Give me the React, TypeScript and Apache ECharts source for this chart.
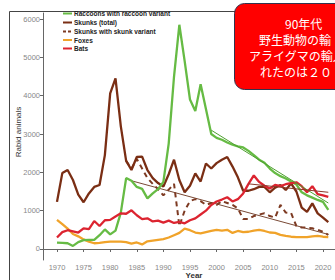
import React, { useEffect, useRef } from "react";
import * as echarts from "echarts";

const years = [
  1970, 1971, 1972, 1973, 1974, 1975, 1976, 1977, 1978, 1979,
  1980, 1981, 1982, 1983, 1984, 1985, 1986, 1987, 1988, 1989,
  1990, 1991, 1992, 1993, 1994, 1995, 1996, 1997, 1998, 1999,
  2000, 2001, 2002, 2003, 2004, 2005, 2006, 2007, 2008, 2009,
  2010, 2011, 2012, 2013, 2014, 2015, 2016, 2017, 2018, 2019,
  2020, 2021,
];

const raccoons = [
  165, 160, 150, 80, 180, 230, 240, 240, 360, 510,
  380, 480, 950, 1850, 1780, 1620, 1570, 1320, 1450, 1560,
  1750, 2750, 4500, 5850, 4900, 3900, 3600, 4300, 3650, 3000,
  2900, 2850, 2780, 2720, 2680, 2650, 2560, 2450, 2330, 2250,
  2100, 1980, 1900, 1840, 1760, 1680, 1480, 1400, 1340, 1280,
  1230, 1020,
];

const skunksTotal = [
  1230, 1980, 2060, 1800, 1420, 1220, 1450, 1620, 1670, 2450,
  4060, 4450, 3200, 2300, 2060, 2400, 2410, 2060, 1850, 1720,
  1630, 1950, 2330, 1800, 1480, 1650, 1970, 1760, 2230, 2100,
  2240, 2330, 2400, 2150, 1870, 1520, 1520, 1560, 1620, 1620,
  1480, 1600, 1670, 1540, 1710, 1500, 1080, 970, 1190, 930,
  820, 700,
];

const skunksVariant = [
  null, null, null, null, null, null, null, null, null, null,
  null, null, null, 2300, 2100, 2350, 2100, 1850, 1700, 1560,
  1400, 1550, 1700, 600, 1000, 1250, 1300, 1250, 1150, 1200,
  1150, 1250, 1200, 1150, 1060, 780, 780, 860, 900, 930,
  860, 820, 1150, 950, 940, 600, 560, 560, 540, 500,
  450, 370,
];

const foxes = [
  760, 650, 530, 390, 330, 250, 190, 150, 160, 180,
  190, 195, 190, 180, 140, 170, 120, 200, 220, 240,
  260, 300, 360, 420, 530, 490, 430, 410, 440, 470,
  500, 480, 500, 420, 470, 440, 450, 480, 500, 470,
  430, 420, 370, 340, 320, 310, 310, 310, 330, 340,
  320, 310,
];

const bats = [
  300, 440, 490, 460, 430, 540, 520, 730, 600, 750,
  760, 850, 930, 920, 1010, 880, 780, 800, 720, 740,
  690, 740, 680, 710, 670, 750, 800, 900, 1000, 1150,
  1240, 1290, 1350, 1240, 1300, 1450, 1700, 1920, 1750, 1650,
  1580, 1670, 1640, 1690, 1720, 1740, 1640, 1480, 1640, 1430,
  1400, 1360,
];

// trend lines: [start year, end year], [start value, end value]
const raccoonTrendYears = [1999, 2021];
const raccoonTrendValues = [3100, 1200];
const variantTrendYears = [1984, 2021];
const variantTrendValues = [1780, 380];
const totalTrendYears = [2006, 2021];
const totalTrendValues = [1700, 1480];

const xTicks = [1970, 1975, 1980, 1985, 1990, 1995, 2000, 2005, 2010, 2015, 2020];
const yTicks = [0, 1000, 2000, 3000, 4000, 5000, 6000];

const legendNames = [
  "Raccoons with raccoon variant",
  "Skunks (total)",
  "Skunks with skunk variant",
  "Foxes",
  "Bats",
];

const calloutLines = ["90年代", "野生動物の輸", "アライグマの輸入", "れたのは２０"];

const C_GREEN = "#66bb44";
const C_BROWN = "#7a2e14";
const C_BROWN2 = "#7d3a22";
const C_ORANGE = "#f0a32a";
const C_RED = "#dc2430";

const legendColors = [C_GREEN, C_BROWN, C_BROWN2, C_ORANGE, C_RED];

export default function App() {
  const ref = useRef<HTMLDivElement>(null);
  useEffect(() => {
    document.body.style.margin = "0";
    const chart = echarts.init(ref.current!, null, { renderer: "svg" });
    const pairs = (vals: (number | null)[]) => years.map((y, i) => [y, vals[i]]);
    const tpairs = (ys: number[], vs: number[]) => ys.map((y, i) => [y, vs[i]]);
    const lineSeries = (name: string, vals: (number | null)[], color: string, width: number, extra: any = {}) => ({
      name,
      type: "line",
      data: pairs(vals),
      symbol: "none",
      connectNulls: false,
      lineStyle: { color, width, ...extra },
      itemStyle: { color },
      emphasis: { disabled: true },
    });
    const trend = (ys: number[], vs: number[], color: string) => ({
      name: "trend",
      type: "line",
      data: tpairs(ys, vs),
      symbol: "none",
      silent: true,
      lineStyle: { color, width: 1 },
      emphasis: { disabled: true },
    });
    const rowY = [13.5, 22.5, 31.5, 40, 48.5];
    const legendGraphics: any[] = [];
    legendNames.forEach((n, i) => {
      legendGraphics.push({
        type: "line",
        silent: true,
        shape: { x1: 63, y1: rowY[i], x2: 72, y2: rowY[i] },
        style: { stroke: legendColors[i], lineWidth: 2, lineDash: i === 2 ? [3, 2] : null },
      });
      legendGraphics.push({
        type: "text",
        silent: true,
        x: 74,
        y: rowY[i],
        style: {
          text: n,
          fontSize: 6.5,
          fontWeight: "bold",
          fill: "#222",
          align: "left",
          verticalAlign: "middle",
          fontFamily: "Liberation Sans, Arial, sans-serif",
        },
      });
    });
    const padLeft = [36, 10, 0, 11];
    const calloutText = calloutLines.map((t, i) => `{l${i}|${t}}`).join("\n");
    const rich: any = {};
    padLeft.forEach((p, i) => {
      rich["l" + i] = {
        fontSize: 12,
        lineHeight: 16,
        fill: "#ffffff",
        color: "#ffffff",
        padding: [0, 0, 0, p],
        fontFamily: "Noto Sans CJK JP",
      };
    });
    chart.setOption({
      animation: false,
      backgroundColor: "#ffffff",
      textStyle: { fontFamily: "Liberation Sans, Arial, sans-serif" },
      grid: { left: 43, top: 13, right: 0, bottom: 20, containLabel: false },
      xAxis: {
        type: "value",
        min: 1967.37,
        max: 2022.26,
        axisLine: { show: true, lineStyle: { color: "#666", width: 1 } },
        axisTick: { show: true, customValues: xTicks, length: 3, lineStyle: { color: "#666" } },
        axisLabel: {
          customValues: xTicks,
          fontSize: 7.5,
          color: "#888",
          margin: 3,
          formatter: (v: number) => String(v),
        },
        splitLine: { show: false },
      },
      yAxis: {
        type: "value",
        min: -287,
        max: 6157,
        axisLine: { show: true, lineStyle: { color: "#666", width: 1 } },
        axisTick: { show: true, customValues: yTicks, length: 3, lineStyle: { color: "#666" } },
        axisLabel: {
          customValues: yTicks,
          fontSize: 7.5,
          color: "#888",
          margin: 3,
          formatter: (v: number) => String(v),
        },
        splitLine: { show: false },
      },
      series: [
        trend(variantTrendYears, variantTrendValues, "#7a4a36"),
        lineSeries("Skunks with skunk variant", skunksVariant, C_BROWN2, 2, { type: [5, 4] }),
        lineSeries("Foxes", foxes, C_ORANGE, 2.3),
        lineSeries("Skunks (total)", skunksTotal, C_BROWN, 2.3),
        lineSeries("Raccoons with raccoon variant", raccoons, C_GREEN, 2.3),
        lineSeries("Bats", bats, C_RED, 2.3),
        trend(raccoonTrendYears, raccoonTrendValues, "#4ea030"),
        trend(totalTrendYears, totalTrendValues, "#8a3a2a"),
      ],
      graphic: [
        { type: "line", shape: { x1: 9.5, y1: 11.5, x2: 9.5, y2: 280 }, style: { stroke: "#444", lineWidth: 1 }, silent: true },
        { type: "line", shape: { x1: 9.5, y1: 11.5, x2: 236, y2: 11.5 }, style: { stroke: "#444", lineWidth: 1 }, silent: true },
        ...legendGraphics,
        {
          type: "text",
          x: 18,
          y: 132,
          rotation: Math.PI / 2,
          style: { text: "Rabid animals", fontSize: 8, fill: "#333", align: "center", verticalAlign: "middle", fontFamily: "Liberation Sans, Arial, sans-serif" },
          silent: true,
        },
        {
          type: "text",
          x: 194,
          y: 275.5,
          style: { text: "Year", fontSize: 8, fontWeight: "bold", fill: "#333", align: "center", verticalAlign: "middle", fontFamily: "Liberation Sans, Arial, sans-serif" },
          silent: true,
        },
        {
          type: "rect",
          shape: { x: 234.5, y: 3.5, width: 120, height: 86, r: 10 },
          style: { fill: "#ff0000", stroke: "#33334d", lineWidth: 1 },
          z: 100,
          silent: true,
        },
        {
          type: "text",
          x: 249,
          y: 15,
          z: 101,
          silent: true,
          style: {
            text: calloutText,
            rich,
            fill: "#ffffff",
            fontSize: 12,
            lineHeight: 16,
            align: "left",
            verticalAlign: "top",
            fontFamily: "Noto Sans CJK JP",
          },
        },
      ],
    });
    return () => chart.dispose();
  }, []);
  return <div ref={ref} style={{ position: "absolute", left: 0, top: 0, width: 335, height: 280 }} />;
}
